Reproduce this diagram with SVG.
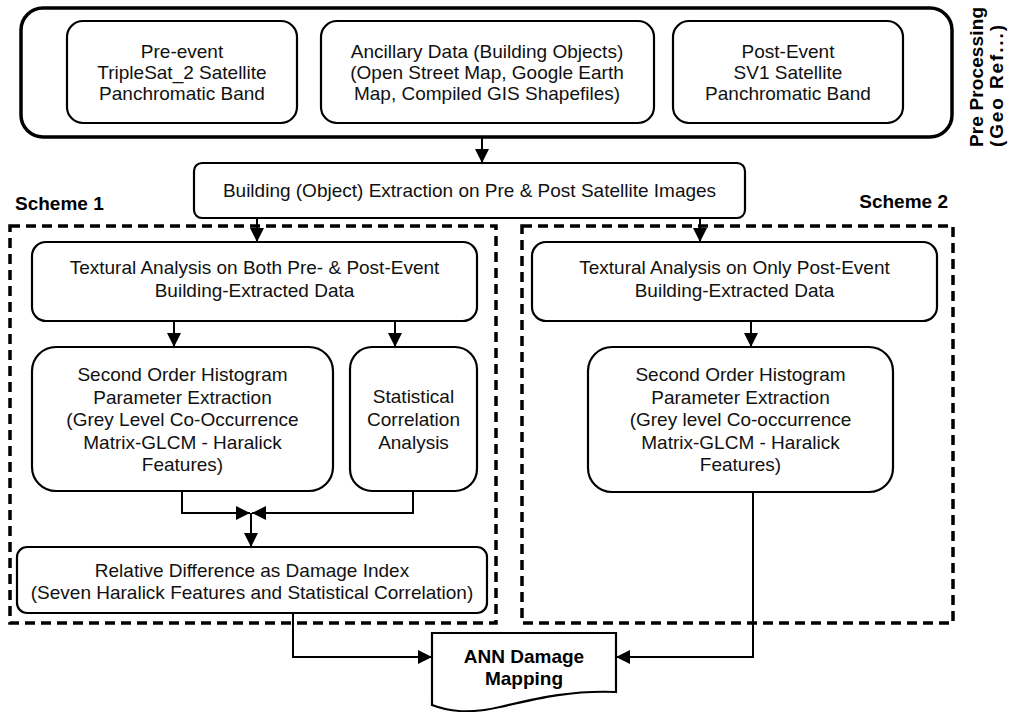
<svg xmlns="http://www.w3.org/2000/svg" width="1011" height="712" viewBox="0 0 1011 712">
<defs>
<style>
.bg{fill:#fff}
.box{fill:#fff;stroke:#000;stroke-width:2.2}
.outer{fill:#fff;stroke:#000;stroke-width:3.5}
.dash{fill:none;stroke:#000;stroke-width:3.5;stroke-dasharray:10 6}
.t{font-family:"Liberation Sans",Arial,sans-serif;font-size:19px;fill:#111;text-anchor:middle}
.b{font-family:"Liberation Sans",Arial,sans-serif;font-weight:bold;font-size:19px;fill:#000}
.c{fill:none;stroke:#000;stroke-width:2}
</style>
<marker id="ah" markerUnits="userSpaceOnUse" markerWidth="15" markerHeight="15" refX="14" refY="7" orient="auto">
<path d="M0,0 L14,7 L0,14 Z" fill="#000"/>
</marker>
</defs>
<rect class="bg" x="0" y="0" width="1011" height="712"/>

<g id="preprocessing">
<rect class="outer" x="21" y="8" width="931" height="129" rx="22"/>
<text class="b" font-size="17" transform="translate(983,147) rotate(-90)" textLength="140" lengthAdjust="spacing">Pre Processing</text>
<text class="b" font-size="17" transform="translate(1003,147) rotate(-90)" textLength="122" lengthAdjust="spacing">(Geo Ref...)</text>
</g>

<g id="pre-event">
<rect class="box" x="67" y="21" width="230" height="102" rx="16"/>
<text class="t" x="182" y="58">Pre-event</text>
<text class="t" x="182" y="79">TripleSat_2 Satellite</text>
<text class="t" x="182" y="100">Panchromatic Band</text>
</g>

<g id="ancillary">
<rect class="box" x="321" y="21" width="333" height="102" rx="16"/>
<text class="t" x="487" y="58">Ancillary Data (Building Objects)</text>
<text class="t" x="487" y="79">(Open Street Map, Google Earth</text>
<text class="t" x="487" y="100">Map, Compiled GIS Shapefiles)</text>
</g>

<g id="post-event">
<rect class="box" x="673" y="21" width="230" height="102" rx="16"/>
<text class="t" x="788" y="58">Post-Event</text>
<text class="t" x="788" y="79">SV1 Satellite</text>
<text class="t" x="788" y="100">Panchromatic Band</text>
</g>

<g id="building-extraction">
<rect class="box" x="194" y="163" width="551" height="55" rx="8"/>
<text class="t" x="469.5" y="197">Building (Object) Extraction on Pre &amp; Post Satellite Images</text>
</g>

<g id="scheme1">
<text class="b" x="15" y="210">Scheme 1</text>
<rect class="dash" x="10" y="226" width="486" height="397"/>
</g>

<g id="scheme2">
<text class="b" x="948" y="208" text-anchor="end">Scheme 2</text>
<rect class="dash" x="522" y="226" width="431" height="397"/>
</g>

<g id="s1-textural">
<rect class="box" x="32" y="242" width="445" height="79" rx="14"/>
<text class="t" x="254.5" y="274">Textural Analysis on Both Pre- &amp; Post-Event</text>
<text class="t" x="254.5" y="297">Building-Extracted Data</text>
</g>

<g id="s1-glcm">
<rect class="box" x="32" y="347" width="301" height="144" rx="24"/>
<text class="t" x="182.5" y="381">Second Order Histogram</text>
<text class="t" x="182.5" y="403.5">Parameter Extraction</text>
<text class="t" x="182.5" y="426">(Grey Level Co-Occurrence</text>
<text class="t" x="182.5" y="448.5">Matrix-GLCM - Haralick</text>
<text class="t" x="182.5" y="471">Features)</text>
</g>

<g id="s1-correlation">
<rect class="box" x="350" y="347" width="127" height="144" rx="22"/>
<text class="t" x="413.5" y="403">Statistical</text>
<text class="t" x="413.5" y="426">Correlation</text>
<text class="t" x="413.5" y="449">Analysis</text>
</g>

<g id="relative-difference">
<rect class="box" x="17" y="547" width="470" height="66" rx="10"/>
<text class="t" x="252" y="577">Relative Difference as Damage Index</text>
<text class="t" x="252" y="599">(Seven Haralick Features and Statistical Correlation)</text>
</g>

<g id="s2-textural">
<rect class="box" x="532" y="242" width="405" height="79" rx="14"/>
<text class="t" x="734.5" y="274">Textural Analysis on Only Post-Event</text>
<text class="t" x="734.5" y="297">Building-Extracted Data</text>
</g>

<g id="s2-glcm">
<rect class="box" x="588" y="347" width="305" height="145" rx="24"/>
<text class="t" x="740.5" y="381">Second Order Histogram</text>
<text class="t" x="740.5" y="403.5">Parameter Extraction</text>
<text class="t" x="740.5" y="426">(Grey level Co-occurrence</text>
<text class="t" x="740.5" y="448.5">Matrix-GLCM - Haralick</text>
<text class="t" x="740.5" y="471">Features)</text>
</g>

<g id="ann">
<path class="box" d="M432,633 H616 V692 C570,690 535,699 500,707 C470,714 450,712 432,705 Z"/>
<text class="b" x="524" y="663" font-size="18" text-anchor="middle">ANN Damage</text>
<text class="b" x="524" y="685" font-size="18" text-anchor="middle">Mapping</text>
</g>

<g id="connectors">
<path class="c" d="M482,137 V163" marker-end="url(#ah)"/>
<path class="c" d="M257,218 V242" marker-end="url(#ah)"/>
<path class="c" d="M700,218 V242" marker-end="url(#ah)"/>
<path class="c" d="M174,321 V347" marker-end="url(#ah)"/>
<path class="c" d="M395,321 V347" marker-end="url(#ah)"/>
<path class="c" d="M182,491 V513 H250" marker-end="url(#ah)"/>
<path class="c" d="M413,491 V513 H252" marker-end="url(#ah)"/>
<path class="c" d="M251,513 V547" marker-end="url(#ah)"/>
<path class="c" d="M751,321 V347" marker-end="url(#ah)"/>
<path class="c" d="M293,613 V657 H432" marker-end="url(#ah)"/>
<path class="c" d="M753,492 V657 H616" marker-end="url(#ah)"/>
</g>
</svg>
